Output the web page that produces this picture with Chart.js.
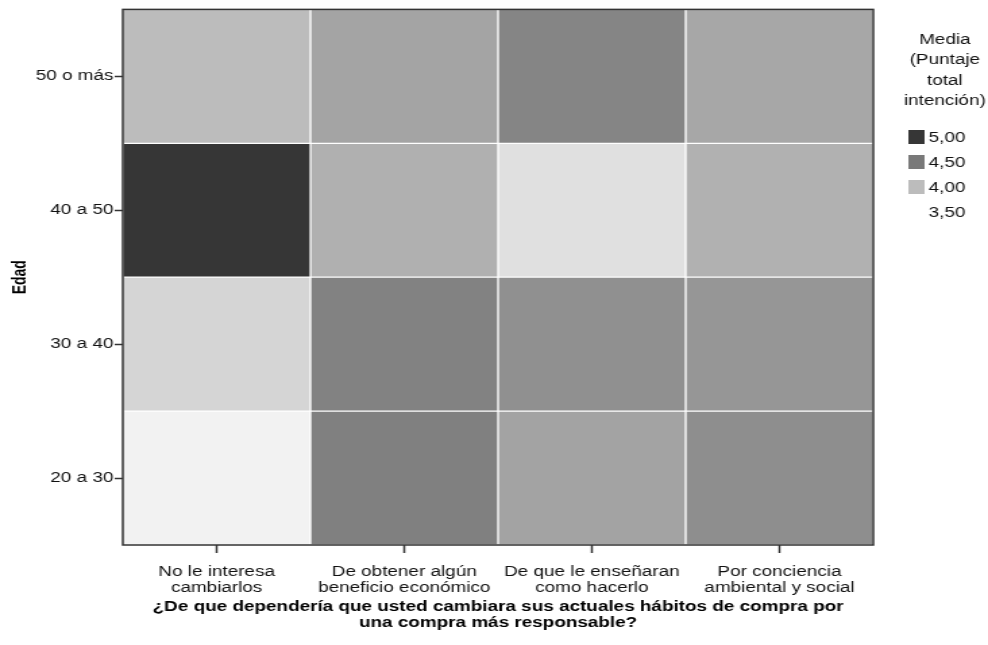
<!DOCTYPE html>
<html lang="es">
<head>
<meta charset="utf-8">
<title>Media del puntaje total de intención por edad</title>
<script src="https://cdn.jsdelivr.net/npm/chart.js@4"></script>
<style>
  html, body { margin: 0; padding: 0; background: #fff; overflow: hidden; }
  #mapa { display: block; }
</style>
</head>
<body>
<!-- el lienzo se dibuja más estrecho y se estira en horizontal -->
<canvas id="mapa" width="732" height="645" style="width:988px;height:645px"></canvas>
<script>
// categorías del eje X (cada una en dos líneas)
const columnas = [
  ['No le interesa', 'cambiarlos'],
  ['De obtener algún', 'beneficio económico'],
  ['De que le enseñaran', 'como hacerlo'],
  ['Por conciencia', 'ambiental y social']
];

// grupos de edad, de abajo hacia arriba
const edades = ['20 a 30', '30 a 40', '40 a 50', '50 o más'];

// media del puntaje total de intención, una lista por grupo de edad
const media20a30 = [3.60, 4.45, 4.19, 4.34];
const media30a40 = [3.81, 4.43, 4.33, 4.28];
const media40a50 = [5.00, 4.09, 3.73, 4.08];
const media50mas = [4.00, 4.18, 4.41, 4.16];
const medias = [media20a30, media30a40, media40a50, media50mas];

// valores que aparecen en la leyenda
const leyendaValores = [5.00, 4.50, 4.00, 3.50];
const leyendaTitulo = ['Media', '(Puntaje', 'total', 'intención)'];

const fuente = "'Liberation Sans', Arial, sans-serif";

// escala de grises: 3,50 blanco, 5,00 casi negro
function gris(v) {
  let g = Math.round(255 - (v - 3.5) * 134);
  g = Math.max(0, Math.min(255, g));
  return `rgb(${g},${g},${g})`;
}

function coma(v) {
  return v.toFixed(2).replace('.', ',');
}

// marco del área de datos y leyenda de la derecha
const marcoYLeyenda = {
  id: 'marcoYLeyenda',
  afterDraw(chart) {
    const { ctx, chartArea: a } = chart;
    ctx.save();
    ctx.strokeStyle = '#333';
    ctx.lineWidth = 1.5;
    ctx.strokeRect(a.left, a.top, a.right - a.left, a.bottom - a.top);

    ctx.fillStyle = '#111';
    ctx.font = `14px ${fuente}`;
    ctx.textAlign = 'center';
    ctx.textBaseline = 'middle';
    const cx = a.right + 53;
    leyendaTitulo.forEach((t, i) => ctx.fillText(t, cx, 40 + i * 20.5));

    ctx.textAlign = 'left';
    leyendaValores.forEach((v, i) => {
      const y = 137 + i * 25;
      ctx.fillStyle = gris(v);
      ctx.fillRect(a.right + 26, y - 7, 12, 14);
      ctx.fillStyle = '#111';
      ctx.fillText(coma(v), a.right + 41, y + 1);
    });
    ctx.restore();
  }
};

new Chart(document.getElementById('mapa'), {
  type: 'bar',
  data: {
    labels: columnas,
    datasets: edades.map((edad, i) => ({
      label: edad,
      data: columnas.map(() => 1),
      backgroundColor: medias[i].map(gris),
      borderColor: 'rgba(255,255,255,0.07)',
      borderWidth: 1,
      borderSkipped: false,
      barPercentage: 1,
      categoryPercentage: 1
    }))
  },
  options: {
    responsive: false,
    animation: false,
    events: [],
    layout: { padding: { top: 3, right: 85, left: 0, bottom: 0 } },
    plugins: {
      legend: { display: false },
      tooltip: { enabled: false }
    },
    scales: {
      x: {
        stacked: true,
        afterFit(s) { s.height = 100; },
        grid: { offset: false, drawOnChartArea: false, tickLength: 8, tickColor: '#333', tickWidth: 1.5 },
        border: { display: false },
        ticks: {
          padding: 11,
          color: '#111',
          font: { family: fuente, size: 14, lineHeight: 1.15 },
          maxRotation: 0,
          autoSkip: false
        },
        title: {
          display: true,
          text: ['¿De que dependería que usted cambiara sus actuales hábitos de compra por',
                 'una compra más responsable?'],
          color: '#000',
          font: { family: fuente, size: 14, weight: 'bold', lineHeight: 1.15 },
          padding: { top: 0, bottom: 14 }
        }
      },
      y: {
        type: 'linear',
        stacked: true,
        min: 0,
        max: edades.length,
        afterFit(s) { s.width = 91; },
        afterBuildTicks(s) {
          s.ticks = edades.map((_, i) => ({ value: i + 0.5 }));
        },
        grid: { drawOnChartArea: false, tickLength: 6, tickColor: '#333', tickWidth: 1.5 },
        border: { display: false },
        ticks: {
          padding: 1,
          color: '#111',
          font: { family: fuente, size: 14 },
          callback: (v, i) => edades[i]
        },
        title: {
          display: true,
          text: 'Edad',
          color: '#000',
          font: { family: fuente, size: 14, weight: 'bold' },
          padding: { top: 7, bottom: 0 }
        }
      }
    }
  },
  plugins: [marcoYLeyenda]
});
</script>
</body>
</html>
